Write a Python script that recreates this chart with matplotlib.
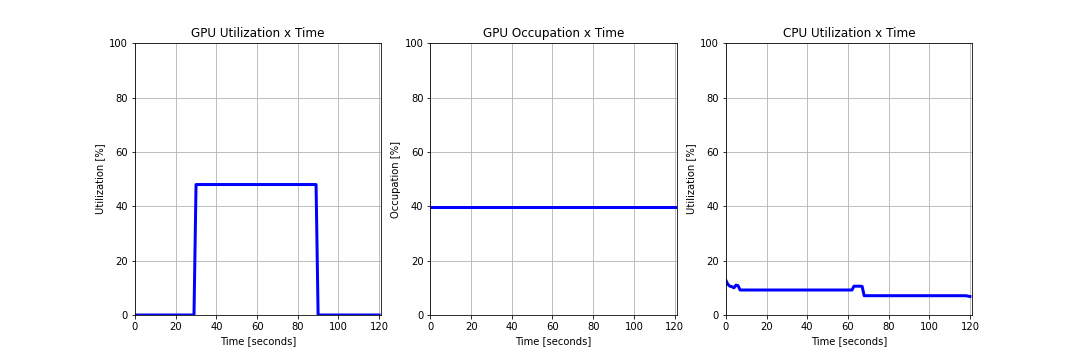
import matplotlib
matplotlib.use("Agg")
from matplotlib import pyplot as plt

# GPU utilization (breakpoints)
gpu_t = [0, 29, 30, 89, 90, 120]
gpu_util = [0, 0, 48, 48, 0, 0]

# GPU memory occupation
occ_t = [0, 120]
gpu_occ = [39.8, 39.8]

# CPU utilization
cpu_t = [0, 1, 2, 3, 4, 5, 6, 7, 62, 63, 66, 67, 68, 118, 120]
cpu_util = [12.8, 11.3, 10.6, 10.4, 10.0, 11.0, 10.8, 9.2, 9.2, 10.6, 10.6, 10.5, 7.1, 7.1, 6.8]

panels = [
    (gpu_t, gpu_util, 'GPU Utilization x Time', 'Utilization [%]'),
    (occ_t, gpu_occ, 'GPU Occupation x Time', 'Occupation [%]'),
    (cpu_t, cpu_util, 'CPU Utilization x Time', 'Utilization [%]'),
]

fig, axes = plt.subplots(1, 3, figsize=(15, 5), dpi=72)
fig.subplots_adjust(left=0.125, right=0.9, top=0.88, bottom=0.125, wspace=0.2)

for ax, (t, y, title, ylabel) in zip(axes, panels):
    ax.plot(t, y, color='blue', lw=3)
    ax.set_xlim(0, 121)
    ax.set_ylim(0, 100)
    ax.set_xticks(range(0, 121, 20))
    ax.set_title(title, fontsize=12)
    ax.set_xlabel('Time [seconds]')
    ax.set_ylabel(ylabel)
    ax.grid(True)

plt.savefig('out.png', dpi=72)
